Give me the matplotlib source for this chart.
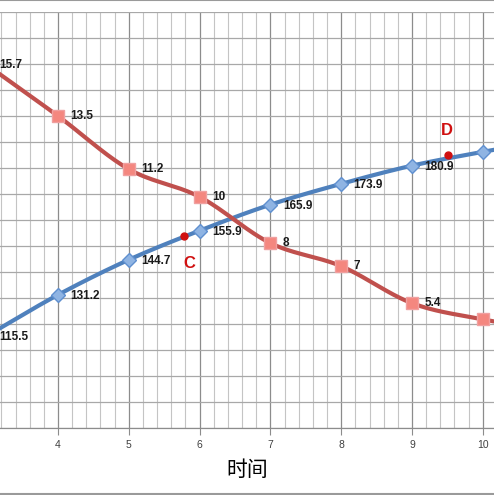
import numpy as np
import matplotlib
matplotlib.use("Agg")
import matplotlib.pyplot as plt
from matplotlib.ticker import MultipleLocator
from matplotlib.lines import Line2D

plt.rcParams['font.family'] = ['Liberation Sans', 'Noto Sans CJK SC', 'DejaVu Sans']

# data
t = [3, 4, 5, 6, 7, 8, 9, 10, 11]
blue_vals = [115.5, 131.2, 144.7, 155.9, 165.9, 173.9, 180.9, 186.2, 191.0]
red_vals = [15.7, 13.5, 11.2, 10, 8, 7, 5.4, 4.7, 4.2]
blue_labels = ['115.5', '131.2', '144.7', '155.9', '165.9', '173.9', '180.9', '', '']
red_labels = ['15.7', '13.5', '11.2', '10', '8', '7', '5.4', '', '']
pt_names = ['C', 'D']
pt_t = [5.78, 9.51]
pt_vals = [153.8, 184.8]
x_ticks = [4, 5, 6, 7, 8, 9, 10]
x_title = '时间'


def smooth(x, y, n=30):
    # catmull-rom, roughly like excel's smoothed line
    x = np.asarray(x, float)
    y = np.asarray(y, float)
    px = np.concatenate([[2 * x[0] - x[1]], x, [2 * x[-1] - x[-2]]])
    py = np.concatenate([[2 * y[0] - y[1]], y, [2 * y[-1] - y[-2]]])
    xs, ys = [], []
    s = np.linspace(0, 1, n, endpoint=False)
    for i in range(1, len(px) - 2):
        for p, out in ((px, xs), (py, ys)):
            p0, p1, p2, p3 = p[i - 1], p[i], p[i + 1], p[i + 2]
            out.extend(0.5 * (2 * p1 + (-p0 + p2) * s
                              + (2 * p0 - 5 * p1 + 4 * p2 - p3) * s ** 2
                              + (-p0 + 3 * p1 - 3 * p2 + p3) * s ** 3))
    xs.append(x[-1])
    ys.append(y[-1])
    return np.array(xs), np.array(ys)


fig = plt.figure(figsize=(4.94, 4.95), dpi=100)
ax = fig.add_axes([0, 0.1354, 1, 0.8404])
ax2 = ax.twinx()

ax.set_xlim(3.181, 10.158)
ax.set_ylim(80, 240)
ax2.set_ylim(0, 18)

ax.xaxis.set_major_locator(MultipleLocator(1))
ax.xaxis.set_minor_locator(MultipleLocator(0.2))
ax.yaxis.set_major_locator(MultipleLocator(10))
ax.grid(which='major', axis='x', color='#8c8c8c', lw=0.9)
ax.grid(which='minor', axis='x', color='#c4c4c4', lw=0.8)
ax.grid(which='major', axis='y', color='#a8a8a8', lw=0.9)
ax.set_axisbelow(True)

ax.set_xticks(x_ticks)
ax.set_xticklabels([str(v) for v in x_ticks])
ax.tick_params(axis='x', which='major', length=5, color='#8c8c8c', labelsize=7.5,
               labelcolor='#404040', pad=4)
ax.tick_params(axis='x', which='minor', length=0)
ax.tick_params(axis='y', left=False, labelleft=False)
ax2.tick_params(axis='y', right=False, labelright=False)
for a in (ax, ax2):
    for k in ('left', 'right', 'top'):
        a.spines[k].set_visible(False)
    a.spines['bottom'].set_color('#8c8c8c')

ax.set_xlabel(x_title, fontsize=15, family=['Noto Sans CJK SC'], labelpad=6)

bx, by = smooth(t, blue_vals)
ax.plot(bx, by, color='#4f81bd', lw=3, zorder=3, solid_capstyle='round')
ax.plot(t, blue_vals, ls='none', marker='D', ms=7, mfc='#8fb4e3', mec='#5f8fcf',
        mew=1, zorder=4)
for xi, yi, lab in zip(t, blue_vals, blue_labels):
    if lab:
        ax.annotate(lab, (xi, yi), xytext=(9, -1), textcoords='offset points',
                    ha='left', va='center', fontsize=8.5, fontweight='bold',
                    color='#1a1a1a', zorder=6, annotation_clip=False)

rx, ry = smooth(t, red_vals)
ax2.plot(rx, ry, color='#c0504d', lw=3, zorder=3, solid_capstyle='round')
ax2.plot(t, red_vals, ls='none', marker='s', ms=8.5, mfc='#f4877f', mec='#f0a0a0',
         mew=1, zorder=4)
for xi, yi, lab in zip(t, red_vals, red_labels):
    if lab:
        ax2.annotate(lab, (xi, yi), xytext=(9, 0), textcoords='offset points',
                     ha='left', va='center', fontsize=8.5, fontweight='bold',
                     color='#1a1a1a', zorder=6, annotation_clip=False)

for name, xi, yi in zip(pt_names, pt_t, pt_vals):
    ax.plot(xi, yi, 'o', ms=5, color='#d01010', zorder=7)
ax.annotate(pt_names[0], (pt_t[0], pt_vals[0]), xytext=(4, -20),
            textcoords='offset points', ha='center', va='center', fontsize=12,
            fontweight='bold', color='#d01010', zorder=7)
ax.annotate(pt_names[1], (pt_t[1], pt_vals[1]), xytext=(-1, 18),
            textcoords='offset points', ha='center', va='center', fontsize=12,
            fontweight='bold', color='#d01010', zorder=7)
ax2.set_zorder(ax.get_zorder() + 1)
ax2.patch.set_visible(False)

# frame lines of the original chart box
fig.add_artist(Line2D([0, 1], [0.999, 0.999], color='#9a9a9a', lw=1.5))
fig.add_artist(Line2D([0, 1], [0.003, 0.003], color='#9a9a9a', lw=1.5))

fig.savefig('out.png', dpi=100)
